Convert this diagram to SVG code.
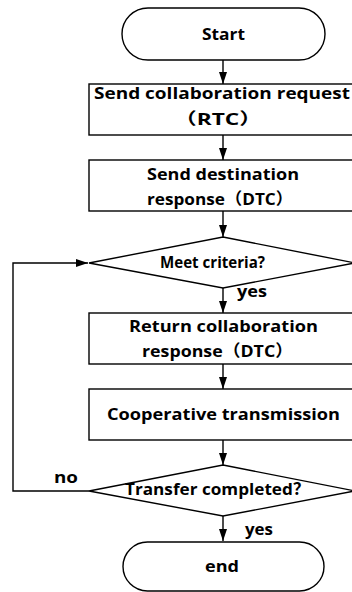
<svg xmlns="http://www.w3.org/2000/svg" width="352" height="592" viewBox="0 0 352 592">
<defs>
<marker id="ah" viewBox="0 0 12 8" refX="12" refY="4" markerWidth="12" markerHeight="8" markerUnits="userSpaceOnUse" orient="auto">
<path d="M0,0 L12,4 L0,8 z" fill="#000"/>
</marker>
<style>
.s{fill:#fff;stroke:#000;stroke-width:1.4}
.c{fill:none;stroke:#000;stroke-width:1.4}
.t{font-family:"Open Sans","Noto Sans CJK SC",sans-serif;font-weight:bold;font-size:16.5px;fill:#000;text-anchor:middle}
.l{font-family:"Open Sans","Noto Sans CJK SC",sans-serif;font-weight:bold;font-size:16px;fill:#000}
</style>
</defs>
<rect width="352" height="592" fill="#fff"/>
<g id="connectors">
<line class="c" x1="223" y1="60" x2="223" y2="84" marker-end="url(#ah)"/>
<line class="c" x1="223" y1="135" x2="223" y2="160" marker-end="url(#ah)"/>
<line class="c" x1="223" y1="211" x2="223" y2="237" marker-end="url(#ah)"/>
<line class="c" x1="223" y1="288" x2="223" y2="313" marker-end="url(#ah)"/>
<line class="c" x1="223" y1="364" x2="223" y2="389" marker-end="url(#ah)"/>
<line class="c" x1="223" y1="440" x2="223" y2="465" marker-end="url(#ah)"/>
<line class="c" x1="223" y1="516" x2="223" y2="541" marker-end="url(#ah)"/>
<polyline class="c" points="89,491 13,491 13,263 88,263" marker-end="url(#ah)"/>
<text class="l" x="237" y="297" textLength="30" lengthAdjust="spacingAndGlyphs">yes</text>
<text class="l" x="54" y="483" textLength="24" lengthAdjust="spacingAndGlyphs">no</text>
<text class="l" x="245" y="535" textLength="28" lengthAdjust="spacingAndGlyphs">yes</text>
</g>
<g id="start">
<rect class="s" x="122" y="8" width="203" height="52" rx="26" ry="26"/>
<text class="t" x="223.5" y="40" textLength="43" lengthAdjust="spacingAndGlyphs">Start</text>
</g>
<g id="send-request">
<rect class="s" x="89" y="84" width="268" height="51"/>
<text class="t" x="222" y="99" textLength="256" lengthAdjust="spacingAndGlyphs">Send collaboration request</text>
<text class="t" x="218" y="125" textLength="88" lengthAdjust="spacingAndGlyphs">（RTC）</text>
</g>
<g id="send-destination">
<rect class="s" x="89" y="160" width="268" height="51"/>
<text class="t" x="223" y="180" textLength="152" lengthAdjust="spacingAndGlyphs">Send destination</text>
<text class="t" x="220" y="205" textLength="146" lengthAdjust="spacingAndGlyphs">response（DTC）</text>
</g>
<g id="meet-criteria">
<polygon class="s" points="223,237 355,263 223,288 89,263"/>
<text class="t" x="212.5" y="268" textLength="105" lengthAdjust="spacingAndGlyphs">Meet criteria?</text>
</g>
<g id="return-response">
<rect class="s" x="89" y="313" width="268" height="51"/>
<text class="t" x="223.5" y="332" textLength="189" lengthAdjust="spacingAndGlyphs">Return collaboration</text>
<text class="t" x="217.5" y="357" textLength="151" lengthAdjust="spacingAndGlyphs">response（DTC）</text>
</g>
<g id="cooperative">
<rect class="s" x="89" y="389" width="268" height="51"/>
<text class="t" x="223.5" y="420" textLength="233" lengthAdjust="spacingAndGlyphs">Cooperative transmission</text>
</g>
<g id="transfer-completed">
<polygon class="s" points="223,465 355,491 223,516 89,491"/>
<text class="t" x="217.5" y="495" textLength="185" lengthAdjust="spacingAndGlyphs">Transfer completed？</text>
</g>
<g id="end">
<rect class="s" x="123" y="542" width="201" height="49" rx="24.5" ry="24.5"/>
<text class="t" x="222" y="572" textLength="34" lengthAdjust="spacingAndGlyphs">end</text>
</g>
</svg>
